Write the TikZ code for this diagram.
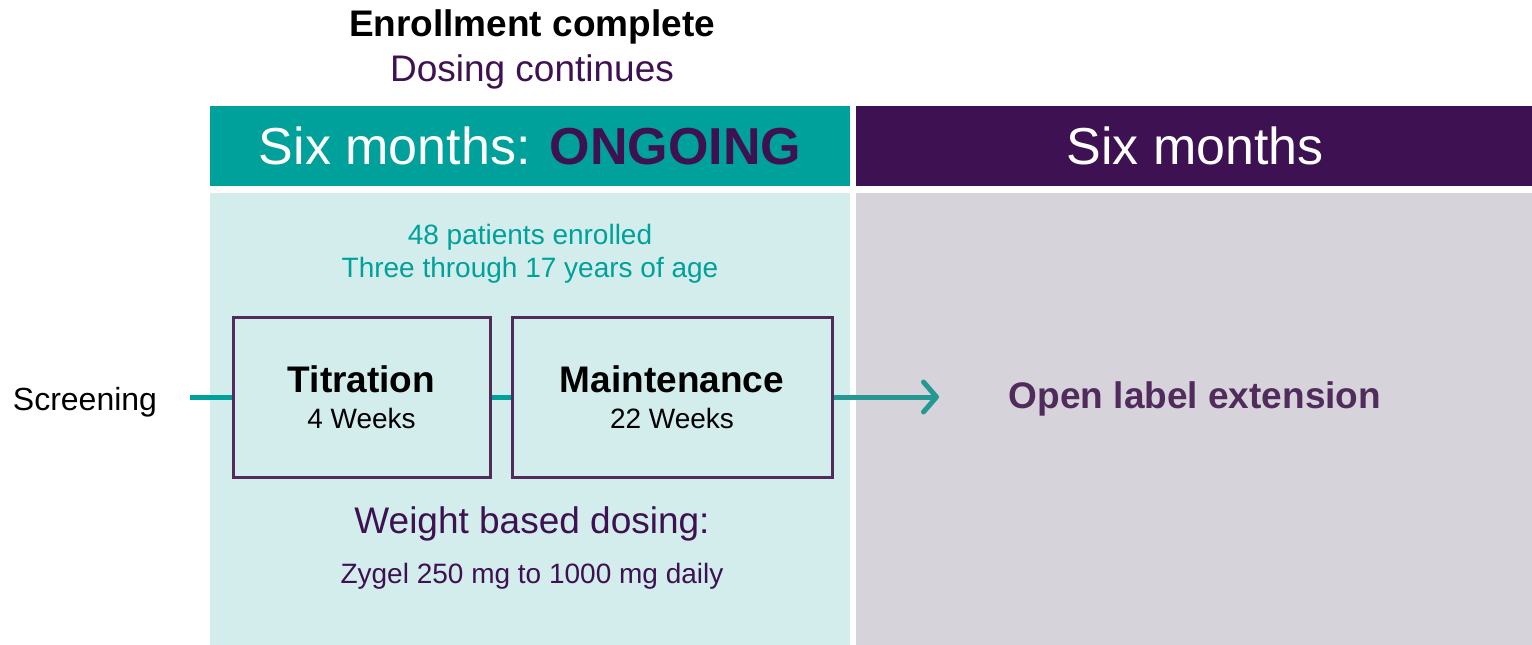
\documentclass[tikz,border=0pt]{standalone}
\usepackage{fontspec}
\setmainfont{Liberation Sans}
\usetikzlibrary{positioning, arrows.meta}
\definecolor{tealhead}{RGB}{0,161,154}
\definecolor{purphead}{RGB}{62,17,82}
\definecolor{lightteal}{RGB}{211,237,236}
\definecolor{greybody}{RGB}{214,212,218}
\definecolor{boxline}{RGB}{80,43,92}
\definecolor{arrowteal}{RGB}{38,152,147}

\begin{document}
\begin{tikzpicture}[x=1pt, y=-1pt, inner sep=0pt,
    phasebox/.style={draw=boxline, line width=3pt, fill=lightteal, minimum height=160pt, align=center,
        font=\fontsize{28}{36}\selectfont},
    flow/.style={draw=tealhead, line width=5pt},
    big/.style={font=\fontsize{37}{44}\selectfont},
    small/.style={font=\fontsize{28}{34}\selectfont},
    head/.style={font=\fontsize{52}{60}\selectfont, text=white}]
    \useasboundingbox (0,0) rectangle (1532,645);

    % panels
    \fill[tealhead] (210,106) rectangle (850,186);
    \fill[purphead] (856,106) rectangle (1532,186);
    \fill[lightteal] (210,193) rectangle (850,645);
    \fill[greybody] (856,193) rectangle (1532,645);

    \node[font=\fontsize{37}{44}\selectfont\bfseries] (done) at (532,27) {Enrollment complete};
    \node[big, text=purphead] (cont) at (532,72) {Dosing continues};
    \node[head] (ongoing) at (530,146) {Six months: {\bfseries\color{purphead}ONGOING}};
    \node[head] (later) at (1195,146) {Six months};

    \node[text=tealhead, align=center, font=\fontsize{28}{33}\selectfont] (pts) at (530,254)
        {48 patients enrolled\\Three through 17 years of age};

    \node[phasebox, minimum width=257pt] (titr) at (361.5,397)
        {{\fontsize{37}{36}\selectfont\bfseries Titration}\\4 Weeks};
    \node[phasebox, minimum width=320pt] (maint) at (672,397)
        {{\fontsize{37}{36}\selectfont\bfseries Maintenance}\\22 Weeks};

    \node[font=\fontsize{32}{38}\selectfont] (scr) at (85,402) {Screening};
    \coordinate (start) at (190,397);
    \coordinate (ext) at (939,397);

    \draw[flow] (start) -- (titr);
    \draw[flow] (titr) -- (maint);
    \draw[flow, draw=arrowteal, -{Straight Barb[round, length=13pt, width=30pt]}] (maint) -- (ext);

    \node[big, text=purphead] (dose) at (532,524) {Weight based dosing:};
    \node[small, text=purphead] (zyg) at (532,576) {Zygel 250 mg to 1000 mg daily};

    \node[text=boxline, font=\fontsize{37}{44}\selectfont\bfseries] (ole) at (1195,399) {Open label extension};
\end{tikzpicture}
\end{document}
